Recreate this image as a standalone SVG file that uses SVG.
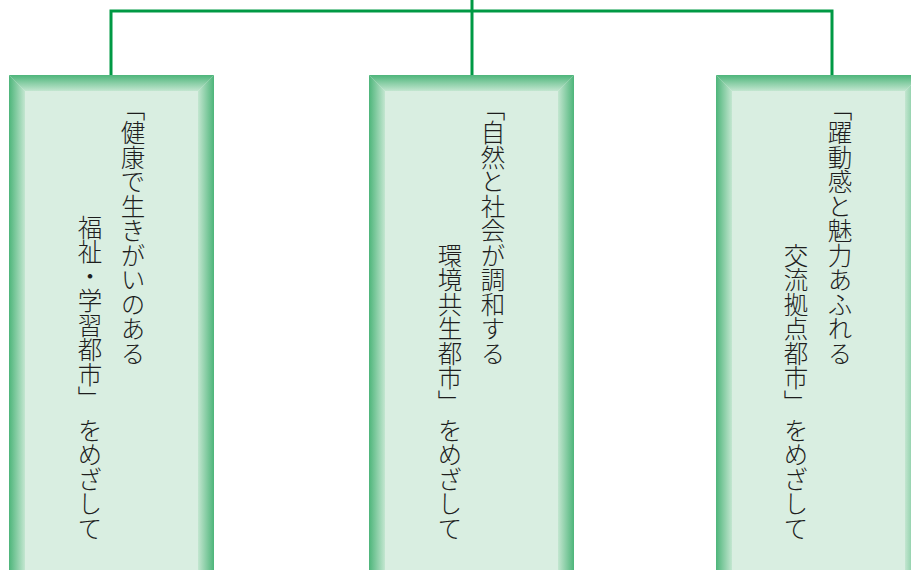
<svg xmlns="http://www.w3.org/2000/svg" width="911" height="570" viewBox="0 0 911 570">
<defs>
<linearGradient id="gT" x1="0" y1="0" x2="0" y2="1"><stop offset="0" stop-color="#4db57a"/><stop offset="1" stop-color="#c3e6d0"/></linearGradient>
<linearGradient id="gL" x1="0" y1="0" x2="1" y2="0"><stop offset="0" stop-color="#4db57a"/><stop offset="1" stop-color="#c3e6d0"/></linearGradient>
<linearGradient id="gR" x1="1" y1="0" x2="0" y2="0"><stop offset="0" stop-color="#4db57a"/><stop offset="1" stop-color="#c3e6d0"/></linearGradient>
<g id="box">
<rect x="0" y="0" width="205" height="520" fill="#d9eee1"/>
<polygon points="0,0 205,0 189,16 16,16" fill="url(#gT)"/>
<polygon points="0,0 16,16 16,520 0,520" fill="url(#gL)"/>
<polygon points="205,0 205,520 189,520 189,16" fill="url(#gR)"/>
</g>
</defs>
<style>
.v{font-family:"Noto Sans CJK JP","Noto Sans CJK SC",sans-serif;font-size:24.5px;fill:#1e1e1e;writing-mode:vertical-rl;font-weight:300}
.c{stroke:#009944;stroke-width:3;fill:none}
</style>
<g id="connectors">
<line class="c" x1="472" y1="0" x2="472" y2="11"/>
<polyline class="c" points="111,76 111,11 832,11 832,76"/>
<line class="c" x1="472" y1="11" x2="472" y2="76"/>
</g>
<g id="node1">
<use href="#box" x="9" y="75"/>
<text class="v" x="133" y="96">「健康で生きがいのある</text>
<text class="v" x="90" y="215">福祉・学習都市」</text>
<text class="v" x="90" y="418">をめざして</text>
</g>
<g id="node2">
<use href="#box" x="369" y="75"/>
<text class="v" x="493" y="96">「自然と社会が調和する</text>
<text class="v" x="450" y="243">環境共生都市」</text>
<text class="v" x="450" y="418">をめざして</text>
</g>
<g id="node3">
<use href="#box" x="716" y="75"/>
<text class="v" x="840" y="96">「躍動感と魅力あふれる</text>
<text class="v" x="796" y="243">交流拠点都市」</text>
<text class="v" x="796" y="418">をめざして</text>
</g>
</svg>
